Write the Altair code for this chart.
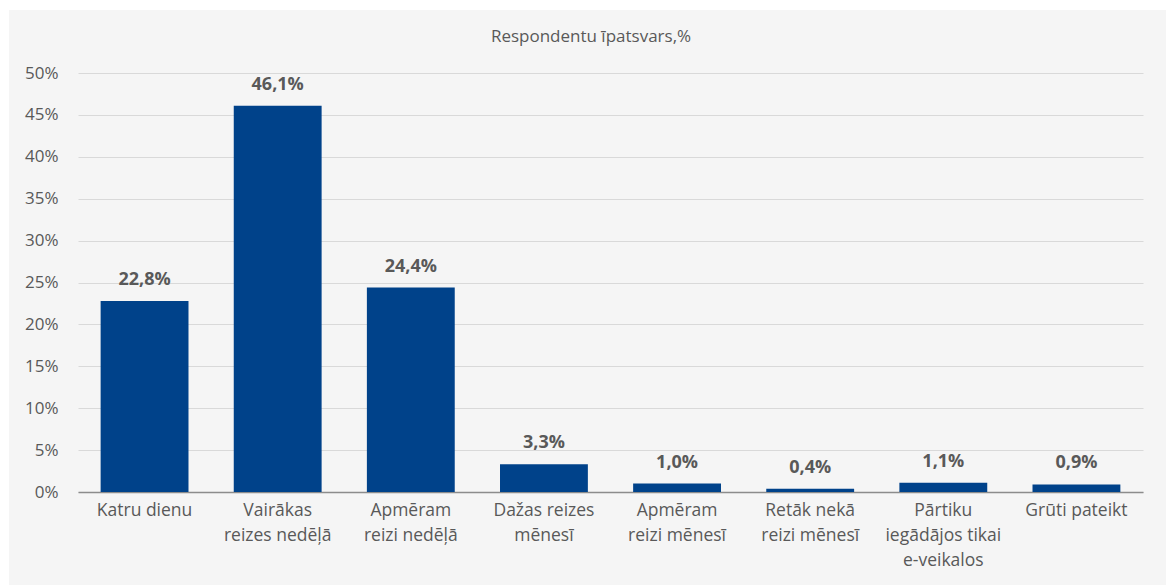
import altair as alt
import pandas as pd

categories = [
    "Katru dienu",
    "Vairākas\nreizes nedēļā",
    "Apmēram\nreizi nedēļā",
    "Dažas reizes\nmēnesī",
    "Apmēram\nreizi mēnesī",
    "Retāk nekā\nreizi mēnesī",
    "Pārtiku\niegādājos tikai\ne-veikalos",
    "Grūti pateikt",
]
values = [22.8, 46.1, 24.4, 3.3, 1.0, 0.4, 1.1, 0.9]
y_ticks = [0, 5, 10, 15, 20, 25, 30, 35, 40, 45, 50]
title_text = "Respondentu īpatsvars,%"

df = pd.DataFrame({"cat": categories, "val": values})

FONT = "Open Sans"
GRAY = "#595959"
W, H = 1065, 419
PL, PT, PR, PB = 78, 73, 23, 93

one = alt.Data(values=[{"t": title_text}])

# white margin strips (top and left) outside the grey chart panel
strip_top = alt.Chart(one).mark_rect(color="white").encode(
    x=alt.value(-PL), x2=alt.value(W + PR), y=alt.value(-PT), y2=alt.value(-(PT - 10))
)
strip_left = alt.Chart(one).mark_rect(color="white").encode(
    x=alt.value(-PL), x2=alt.value(-(PL - 9)), y=alt.value(-PT), y2=alt.value(H + PB)
)

title = alt.Chart(one).mark_text(
    font=FONT, fontSize=17, color=GRAY, baseline="middle", align="center"
).encode(text="t:N", x=alt.value(513), y=alt.value(-36))

base = alt.Chart(df).encode(
    x=alt.X(
        "cat:N",
        sort=categories,
        scale=alt.Scale(paddingInner=0.34, paddingOuter=0.17),
        axis=alt.Axis(
            title=None,
            labelAngle=0,
            labelExpr="split(datum.label, '\\n')",
            labelFont=FONT,
            labelFontSize=17.5,
            labelColor=GRAY,
            labelLineHeight=25,
            labelPadding=9,
            ticks=False,
            domainColor="#8c8c8c",
            domainWidth=1.5,
            grid=False,
        ),
    ),
    y=alt.Y(
        "val:Q",
        scale=alt.Scale(domain=[0, 50], nice=False),
        axis=alt.Axis(
            title=None,
            values=y_ticks,
            labelExpr="datum.value + '%'",
            labelFont=FONT,
            labelFontSize=17,
            labelColor=GRAY,
            labelPadding=20,
            ticks=False,
            domain=False,
            gridColor="#d9d9d9",
            gridWidth=1.2,
        ),
    ),
)

bars = base.mark_bar(color="#00428a")
labels = base.mark_text(
    font=FONT, fontSize=18, fontWeight="bold", color=GRAY, baseline="bottom", dy=-12
).transform_calculate(
    lbl="replace(format(datum.val, '.1f'), '.', ',') + '%'"
).encode(text="lbl:N")

chart = (
    alt.layer(bars, labels, strip_top, strip_left, title)
    .properties(
        width=W,
        height=H,
        autosize=alt.AutoSizeParams(type="none"),
        padding={"left": PL, "top": PT, "right": PR, "bottom": PB},
        background="#f5f5f5",
    )
    .configure_view(stroke=None)
)

chart.save("out.html", embed_options={"renderer": "svg", "actions": False})
